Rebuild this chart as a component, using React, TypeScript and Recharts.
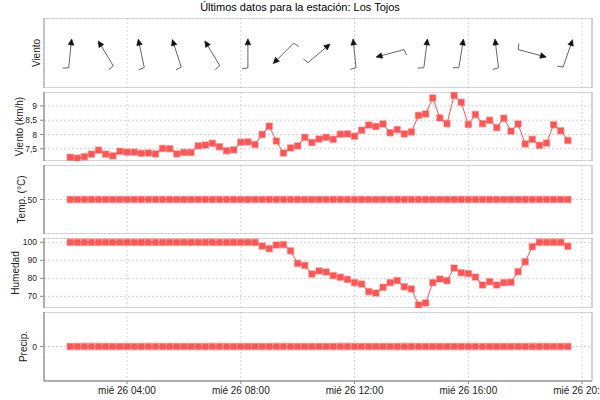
import {
  LineChart,
  Line,
  ScatterChart,
  Scatter,
  XAxis,
  YAxis,
  CartesianGrid,
  ReferenceArea,
} from "recharts";

// -------------------------
// DATA
// -------------------------
const times = [
  "02:00", "02:15", "02:30", "02:45", "03:00", "03:15", "03:30", "03:45",
  "04:00", "04:15", "04:30", "04:45", "05:00", "05:15", "05:30", "05:45",
  "06:00", "06:15", "06:30", "06:45", "07:00", "07:15", "07:30", "07:45",
  "08:00", "08:15", "08:30", "08:45", "09:00", "09:15", "09:30", "09:45",
  "10:00", "10:15", "10:30", "10:45", "11:00", "11:15", "11:30", "11:45",
  "12:00", "12:15", "12:30", "12:45", "13:00", "13:15", "13:30", "13:45",
  "14:00", "14:15", "14:30", "14:45", "15:00", "15:15", "15:30", "15:45",
  "16:00", "16:15", "16:30", "16:45", "17:00", "17:15", "17:30", "17:45",
  "18:00", "18:15", "18:30", "18:45", "19:00", "19:15", "19:30",
];

const windSpeed = [
  7.2, 7.17, 7.22, 7.31, 7.45, 7.31, 7.25, 7.41, 7.38, 7.38, 7.34, 7.35, 7.32,
  7.51, 7.5, 7.32, 7.37, 7.37, 7.6, 7.63, 7.69, 7.57, 7.43, 7.46, 7.73, 7.74,
  7.65, 8.0, 8.29, 7.77, 7.35, 7.53, 7.6, 7.9, 7.72, 7.84, 7.9, 7.83, 8.01,
  8.02, 7.94, 8.15, 8.33, 8.28, 8.37, 8.06, 8.17, 8.02, 8.09, 8.67, 8.72, 9.28,
  8.58, 8.38, 9.37, 9.13, 8.35, 8.7, 8.38, 8.5, 8.24, 8.57, 8.12, 8.37, 7.67,
  7.83, 7.62, 7.7, 8.34, 8.13, 7.79,
];

const temperature = [
  50, 50, 50, 50, 50, 50, 50, 50, 50, 50, 50, 50, 50, 50, 50, 50, 50, 50, 50,
  50, 50, 50, 50, 50, 50, 50, 50, 50, 50, 50, 50, 50, 50, 50, 50, 50, 50, 50,
  50, 50, 50, 50, 50, 50, 50, 50, 50, 50, 50, 50, 50, 50, 50, 50, 50, 50, 50,
  50, 50, 50, 50, 50, 50, 50, 50, 50, 50, 50, 50, 50, 50,
];

const humidity = [
  100, 100, 100, 100, 100, 100, 100, 100, 100, 100, 100, 100, 100, 100, 100,
  100, 100, 100, 100, 100, 100, 100, 100, 100, 100, 100, 100, 97.9, 96.5, 98.5,
  98.7, 95.3, 88.3, 87.2, 82.4, 84.1, 83.5, 81.5, 80.6, 79.4, 77.6, 76.8, 72.6,
  71.8, 75.0, 77.6, 78.7, 75.3, 74.1, 65.2, 66.3, 77.6, 79.6, 78.7, 85.7, 83.1,
  82.6, 80.7, 76.3, 78.1, 76.3, 77.6, 77.8, 83.7, 89.2, 97.6, 100, 100, 100,
  100, 97.8,
];

const precipitation = [
  0, 0, 0, 0, 0, 0, 0, 0, 0, 0, 0, 0, 0, 0, 0, 0, 0, 0, 0, 0, 0, 0, 0, 0, 0, 0,
  0, 0, 0, 0, 0, 0, 0, 0, 0, 0, 0, 0, 0, 0, 0, 0, 0, 0, 0, 0, 0, 0, 0, 0, 0, 0,
  0, 0, 0, 0, 0, 0, 0, 0, 0, 0, 0, 0, 0, 0, 0, 0, 0, 0, 0,
];

// wind direction arrows (heading of the arrow, degrees clockwise from north)
const arrowTimes = [
  "02:00", "03:15", "04:30", "05:45", "07:00", "08:15", "09:30", "10:45",
  "12:00", "13:15", "14:30", "15:45", "17:00", "18:15", "19:30",
];
const arrowDirs = [6, 329, 348, 342, 329, 0, 225, 50, 354, 255, 7, 9, 353, 105, 19];

const xTicks = [4, 8, 12, 16, 20];

// -------------------------
// THEME
// -------------------------
const RED = "#ff5555";
const GRID = "#d4d4d4";
const FRAME = "#b4b4b4";
const AXIS = "#8a8a8a";
const TEXT = "#222";
const FONT = "'Liberation Sans', Arial, sans-serif";

const X_DOMAIN: [number, number] = [1.08, 20.35];

const toHours = (s: string) => {
  const [h, m] = s.split(":").map(Number);
  return h + m / 60;
};

const series = (values: number[]) =>
  times.map((s, i) => ({ t: toHours(s), v: values[i] }));

const arrowData = arrowTimes.map((s, i) => ({
  t: toHours(s),
  y: 1.06,
  dir: arrowDirs[i],
}));

const xFmt = (v: number) => `mié 26 ${String(v).padStart(2, "0")}:00`;
const commaFmt = (v: number) => String(v).replace(".", ",");

function axisTitle(text: string, x: number) {
  return (props: any) => {
    const vb = props.viewBox || {};
    const y = (vb.y || 0) + (vb.height || 0) / 2;
    return (
      <text
        x={x}
        y={y}
        dy="0.35em"
        transform={`rotate(-90, ${x}, ${y})`}
        textAnchor="middle"
        fontSize={10}
        fill={TEXT}
      >
        {text}
      </text>
    );
  };
}

const square = (p: any) => (
  <rect
    key={`sq-${p.index}`}
    x={p.cx - 3}
    y={p.cy - 3}
    width={6}
    height={6}
    fill={RED}
    stroke="rgba(255,85,85,0.45)"
    strokeWidth={1.5}
  />
);

function WindArrow(props: any) {
  const { cx, cy, payload } = props;
  const a = (payload.dir * Math.PI) / 180;
  const ux = Math.sin(a);
  const uy = -Math.cos(a);
  const L = 14.5;
  const hx = cx + ux * L;
  const hy = cy + uy * L;
  const tx = cx - ux * L;
  const ty = cy - uy * L;
  const bx = hx - ux * 6;
  const by = hy - uy * 6;
  const px = -uy * 2.8;
  const py = ux * 2.8;
  const b = ((payload.dir - 100) * Math.PI) / 180;
  const head = `M${hx},${hy} L${bx + px},${by + py} L${bx - px},${by - py} Z`;
  return (
    <g>
      <line x1={tx} y1={ty} x2={bx} y2={by} stroke="#666" strokeWidth={1} />
      <line
        x1={tx}
        y1={ty}
        x2={tx + Math.sin(b) * 6}
        y2={ty - Math.cos(b) * 6}
        stroke="#666"
        strokeWidth={1}
      />
      <path d={head} fill="#111" stroke="#111" strokeWidth={0.6} />
    </g>
  );
}

function Panel({
  top,
  height,
  values,
  domain,
  ticks,
  title,
  titleX,
  fmt,
  last,
}: {
  top: number;
  height: number;
  values: number[];
  domain: [number, number];
  ticks: number[];
  title: string;
  titleX: number;
  fmt?: (v: number) => string;
  last?: boolean;
}) {
  return (
    <div style={{ position: "absolute", left: 0, top }}>
      <LineChart
        width={600}
        height={height + (last ? 20 : 0)}
        data={series(values)}
        margin={{ top: 0, right: 8, bottom: 0, left: 0 }}
      >
        <CartesianGrid stroke={GRID} strokeDasharray="2 2" />
        <XAxis
          dataKey="t"
          type="number"
          domain={X_DOMAIN}
          ticks={xTicks}
          interval={0}
          allowDataOverflow
          hide={!last}
          height={20}
          tickFormatter={xFmt}
          tick={{ fontSize: 10, fill: TEXT }}
          tickSize={3}
          tickMargin={3}
          axisLine={{ stroke: AXIS }}
          tickLine={{ stroke: AXIS }}
        />
        <YAxis
          type="number"
          width={44}
          domain={domain}
          ticks={ticks}
          interval={0}
          allowDataOverflow
          tickFormatter={fmt}
          tick={{ fontSize: 8.5, fill: TEXT }}
          tickSize={4}
          tickMargin={3}
          axisLine={{ stroke: AXIS }}
          tickLine={{ stroke: AXIS }}
          label={axisTitle(title, titleX)}
        />
        <ReferenceArea
          x1={X_DOMAIN[0]}
          x2={X_DOMAIN[1]}
          y1={domain[0]}
          y2={domain[1]}
          fill="none"
          stroke={FRAME}
          ifOverflow="visible"
        />
        <Line
          dataKey="v"
          stroke={RED}
          strokeWidth={1}
          dot={square}
          activeDot={false}
          isAnimationActive={false}
        />
      </LineChart>
    </div>
  );
}

export default function App() {
  return (
    <div
      style={{
        position: "absolute",
        left: 0,
        top: 0,
        width: 600,
        height: 400,
        background: "#fff",
        fontFamily: FONT,
        color: TEXT,
      }}
    >
      <div
        style={{
          position: "absolute",
          left: 0,
          top: 1,
          width: 600,
          textAlign: "center",
          fontSize: 11,
          lineHeight: "13px",
          color: "#000",
        }}
      >
        Últimos datos para la estación: Los Tojos
      </div>

      {/* WIND DIRECTION */}
      <div style={{ position: "absolute", left: 0, top: 18 }}>
        <ScatterChart
          width={600}
          height={70}
          margin={{ top: 0, right: 8, bottom: 0, left: 0 }}
        >
          <CartesianGrid stroke={GRID} strokeDasharray="2 2" />
          <XAxis
            dataKey="t"
            type="number"
            domain={X_DOMAIN}
            ticks={xTicks}
            interval={0}
            allowDataOverflow
            hide
          />
          <YAxis
            dataKey="y"
            type="number"
            width={44}
            domain={[-1, 3.16]}
            ticks={[0, 1, 2, 3]}
            allowDataOverflow
            tick={false}
            tickLine={false}
            axisLine={{ stroke: FRAME }}
            label={axisTitle("Viento", 36.7)}
          />
          <ReferenceArea
            x1={X_DOMAIN[0]}
            x2={X_DOMAIN[1]}
            y1={-1}
            y2={3.16}
            fill="none"
            stroke={FRAME}
            ifOverflow="visible"
          />
          <Scatter
            data={arrowData}
            dataKey="y"
            shape={(p: any) => <WindArrow {...p} />}
            isAnimationActive={false}
          />
        </ScatterChart>
      </div>

      <Panel
        top={92}
        height={69}
        values={windSpeed}
        domain={[7.07, 9.49]}
        ticks={[7.5, 8, 8.5, 9]}
        title="Viento (km/h)"
        titleX={19}
        fmt={commaFmt}
      />
      <Panel
        top={165}
        height={69}
        values={temperature}
        domain={[49, 51]}
        ticks={[50]}
        title="Temp. (°C)"
        titleX={21.7}
      />
      <Panel
        top={238}
        height={70}
        values={humidity}
        domain={[63.5, 102.4]}
        ticks={[70, 80, 90, 100]}
        title="Humedad"
        titleX={15.7}
      />
      <Panel
        top={312}
        height={69}
        values={precipitation}
        domain={[-1, 1]}
        ticks={[0]}
        title="Precip."
        titleX={23}
        last
      />
    </div>
  );
}
